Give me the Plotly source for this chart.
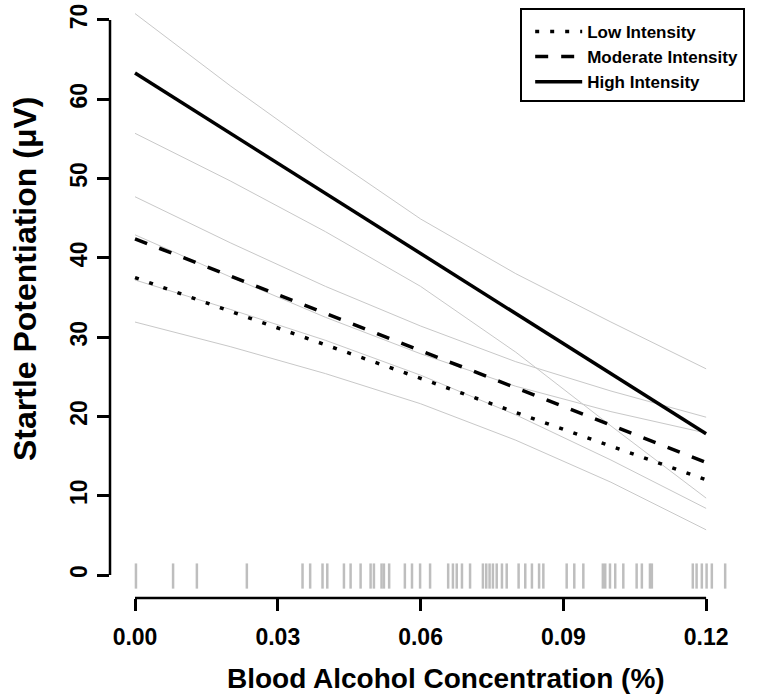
import plotly.graph_objects as go

# ---- data ----
bac_grid = [0.00, 0.02, 0.04, 0.06, 0.08, 0.10, 0.12]

low_fit = [37.5, 33.3, 29.0, 24.8, 20.5, 16.3, 12.0]
low_upper = [42.9, 37.6, 32.5, 27.9, 23.8, 20.6, 17.9]
low_lower = [31.9, 28.8, 25.4, 21.6, 17.0, 11.7, 5.7]

mod_fit = [42.4, 37.7, 33.0, 28.3, 23.6, 18.9, 14.2]
mod_upper = [47.7, 41.9, 36.4, 31.4, 26.9, 23.2, 19.9]
mod_lower = [37.2, 33.5, 29.6, 25.2, 20.2, 14.5, 8.4]

high_fit = [63.3, 55.7, 48.1, 40.6, 33.0, 25.4, 17.8]
high_upper = [70.8, 61.7, 53.1, 44.9, 38.0, 31.9, 26.0]
high_lower = [55.7, 49.7, 43.3, 36.4, 28.1, 18.8, 9.7]

rug_bac = [0.0002, 0.0080, 0.0130, 0.0235, 0.0352, 0.0368, 0.0394, 0.0404,
           0.0439, 0.0453, 0.0474, 0.0495, 0.0502, 0.0518, 0.0523, 0.0534,
           0.0567, 0.0582, 0.0599, 0.0620, 0.0658, 0.0668, 0.0676, 0.0687,
           0.0704, 0.0731, 0.0738, 0.0745, 0.0752, 0.0760, 0.0771, 0.0781,
           0.0806, 0.0820, 0.0834, 0.0849, 0.0858, 0.0907, 0.0923, 0.0942,
           0.0983, 0.0988, 0.0998, 0.1009, 0.1026, 0.1054, 0.1065, 0.1082,
           0.1086, 0.1172, 0.1180, 0.1191, 0.1201, 0.1212, 0.1240]

x_tickvals = [0.00, 0.03, 0.06, 0.09, 0.12]
x_ticktext = ["0.00", "0.03", "0.06", "0.09", "0.12"]
y_tickvals = [0, 10, 20, 30, 40, 50, 60, 70]

series_names = ["Low Intensity", "Moderate Intensity", "High Intensity"]

# ---- figure ----
FONT = "Liberation Sans, Arial, sans-serif"
grey = "#c8c8c8"

fig = go.Figure()

for band in [high_upper, high_lower, mod_upper, mod_lower, low_upper, low_lower]:
    fig.add_trace(go.Scatter(x=bac_grid, y=band, mode="lines",
                             line=dict(color=grey, width=1),
                             showlegend=False, hoverinfo="skip"))

styles = [("4px,11px", low_fit), ("13px,13px", mod_fit), ("solid", high_fit)]
for name, (dash, ys) in zip(series_names, styles):
    fig.add_trace(go.Scatter(x=bac_grid, y=ys, mode="lines", name=name,
                             line=dict(color="black", width=3.5, dash=dash)))

fig.add_trace(go.Scatter(x=rug_bac, y=[-0.13] * len(rug_bac), mode="markers",
                         marker=dict(symbol="line-ns", size=18,
                                     line=dict(width=2.5, color="#bebebe")),
                         showlegend=False, hoverinfo="skip"))

tickfont = dict(family=FONT, size=23, color="black", weight="bold")

fig.update_layout(
    width=758, height=696,
    margin=dict(l=110, r=0, t=0, b=98),
    plot_bgcolor="white", paper_bgcolor="white",
    xaxis=dict(range=[-0.005254, 0.1309], tickvals=x_tickvals, ticktext=x_ticktext,
               ticks="outside", ticklen=12, tickwidth=2.5, tickcolor="black",
               showgrid=False, zeroline=False, showline=False, tickfont=tickfont,
               ticklabelstandoff=6, automargin=False),
    yaxis=dict(range=[-2.90, 72.51], tickvals=y_tickvals, tickangle=-90,
               ticks="outside", ticklen=12, tickwidth=2.5, tickcolor="black",
               showgrid=False, zeroline=False, showline=False, tickfont=tickfont,
               ticklabelstandoff=1, automargin=False),
    legend=dict(x=0.633, y=0.9866, xanchor="left", yanchor="top",
                bordercolor="black", borderwidth=2, bgcolor="white",
                font=dict(family=FONT, size=17, color="black", weight="bold"),
                itemwidth=47, indentation=8,
                title=dict(text=" ", font=dict(size=3))),
    shapes=[
        dict(type="line", xref="x", yref="paper", x0=0, x1=0.12, y0=0, y1=0,
             line=dict(color="black", width=2.5)),
        dict(type="line", xref="paper", yref="y", x0=0, x1=0, y0=0, y1=70,
             line=dict(color="black", width=2.5)),
    ],
    annotations=[
        dict(text="Blood Alcohol Concentration (%)", xref="paper", yref="paper",
             x=(446 - 110) / 648, y=0, yshift=-80, xanchor="center", yanchor="middle",
             showarrow=False, font=dict(family=FONT, size=28, color="black", weight="bold")),
        dict(text="Startle Potentiation (\u03bcV)", xref="paper", yref="paper",
             x=0, xshift=-85, y=(598 - 279) / 598, xanchor="center", yanchor="middle",
             textangle=-90, showarrow=False,
             font=dict(family=FONT, size=32, color="black", weight="bold")),
    ],
)

fig.write_html("out.html", config={"displayModeBar": False},
               post_script="document.body.style.margin='0';")
